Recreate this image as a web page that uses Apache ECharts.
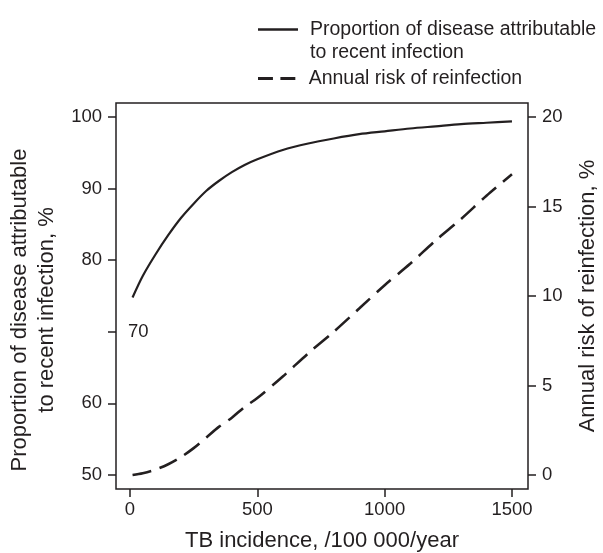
<!DOCTYPE html>
<html><head><meta charset="utf-8">
<script src="https://cdn.jsdelivr.net/npm/echarts@6/dist/echarts.min.js"></script>
<style>html,body{margin:0;padding:0;background:#fff}#c{width:603px;height:553px}</style>
</head><body><div id="c"></div>
<script>
const incidence = [10,50,100,150,200,250,300,350,400,450,500,600,700,800,900,1000,1100,1200,1300,1400,1500];
const proportionRecent = [74.8,77.8,80.8,83.5,85.9,87.9,89.7,91.1,92.3,93.3,94.1,95.4,96.3,97.0,97.6,98.0,98.4,98.7,99.0,99.2,99.4];
const reinfectionRisk = [0.0,0.1,0.3,0.6,1.0,1.5,2.1,2.7,3.2,3.8,4.3,5.5,6.8,8.0,9.3,10.6,11.8,13.1,14.3,15.6,16.8];
const xTicks = [0,500,1000,1500];
const leftTicks = [50,60,70,80,90,100];
const leftLabels = [50,60,80,90,100];
const leftInsideLabels = [70];
const rightTicks = [0,5,10,15,20];
const seriesNames = ['Proportion of disease attributable to recent infection','Annual risk of reinfection'];
const legendLabels = ['\nProportion of disease attributable\nto recent infection','Annual risk of reinfection'];

const INK = '#231f20';
const FONT = "'Liberation Sans', Arial, sans-serif";
const chart = echarts.init(document.getElementById('c'));
const yRangeL = [48.04, 101.96];
const yRangeR = [-0.784, 20.784];
const tickFont = {color: INK, fontSize: 18.5, fontFamily: FONT};
const plain = v => String(v);

chart.setOption({
  backgroundColor: '#fff',
  animation: false,
  grid: {left: 116, right: 75, top: 103, bottom: 64, containLabel: false, outerBoundsMode: 'none',
         show: true, borderColor: INK, borderWidth: 1.5, backgroundColor: 'transparent'},
  legend: [
    {data: [seriesNames[0]], left: 258, top: -5, padding: 0, itemWidth: 40, itemHeight: 2.5,
     icon: 'rect', itemStyle: {color: INK},
     formatter: () => legendLabels[0],
     textStyle: {color: INK, fontSize: 19.5, fontFamily: FONT, lineHeight: 23, padding: [0,0,0,7]}},
    {data: [seriesNames[1]], left: 258, top: 67, padding: 0, itemWidth: 40, itemHeight: 2.8,
     icon: 'path://M0,0h16v3h-16z M24,0h16v3h-16z', itemStyle: {color: INK},
     formatter: () => legendLabels[1],
     textStyle: {color: INK, fontSize: 19.5, fontFamily: FONT, lineHeight: 23, padding: [0,0,0,7]}}
  ],
  xAxis: {
    type: 'value', min: -55, max: 1563,
    axisLine: {show: false, onZero: false},
    splitLine: {show: false},
    axisTick: {show: true, customValues: xTicks, length: 8, lineStyle: {color: INK, width: 1.5}},
    axisLabel: {customValues: xTicks, formatter: plain, margin: 11, ...tickFont},
    name: 'TB incidence, /100 000/year', nameLocation: 'middle', nameGap: 41,
    nameTextStyle: {color: INK, fontSize: 22, fontFamily: FONT}
  },
  yAxis: [
    {type: 'value', position: 'left', min: yRangeL[0], max: yRangeL[1],
     axisLine: {show: false, onZero: false}, splitLine: {show: false},
     axisTick: {show: true, customValues: leftTicks, length: 8, lineStyle: {color: INK, width: 1.5}},
     axisLabel: {customValues: leftLabels, formatter: plain, margin: 14, ...tickFont},
     name: 'Proportion of disease attributable\nto recent infection, %', nameLocation: 'middle', nameGap: 53, nameRotate: 90,
     nameTextStyle: {color: INK, fontSize: 22, fontFamily: FONT, lineHeight: 27, padding: [0, 28, 0, 0]}},
    {type: 'value', position: 'right', min: yRangeR[0], max: yRangeR[1],
     axisLine: {show: false, onZero: false}, splitLine: {show: false},
     axisTick: {show: true, customValues: rightTicks, length: 8, lineStyle: {color: INK, width: 1.5}},
     axisLabel: {customValues: rightTicks, formatter: plain, margin: 14, ...tickFont},
     name: 'Annual risk of reinfection, %', nameLocation: 'middle', nameGap: 49, nameRotate: 90,
     nameTextStyle: {color: INK, fontSize: 22, fontFamily: FONT}},
    {type: 'value', position: 'left', min: yRangeL[0], max: yRangeL[1],
     axisLine: {show: false, onZero: false}, splitLine: {show: false}, axisTick: {show: false},
     axisLabel: {inside: true, customValues: leftInsideLabels, formatter: plain, margin: 12, ...tickFont}}
  ],
  series: [
    {name: seriesNames[0], type: 'line', yAxisIndex: 0, symbol: 'none', smooth: 0.3,
     lineStyle: {color: INK, width: 2.2}, itemStyle: {color: INK},
     data: incidence.map((x, i) => [x, proportionRecent[i]])},
    {name: seriesNames[1], type: 'line', yAxisIndex: 1, symbol: 'none', smooth: 0.3,
     lineStyle: {color: INK, width: 2.6, type: [19, 9]}, itemStyle: {color: INK},
     data: incidence.map((x, i) => [x, reinfectionRisk[i]])}
  ]
});
</script></body></html>
